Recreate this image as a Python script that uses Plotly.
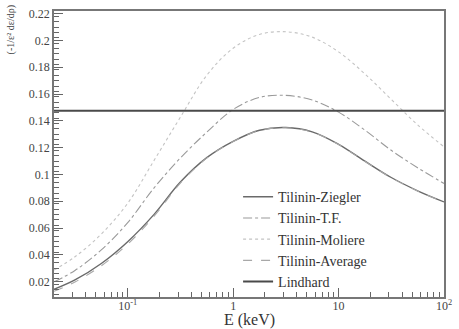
import plotly.graph_objects as go

energy_kev = [0.02, 0.0316, 0.0562, 0.1, 0.178, 0.316, 0.562, 1.0, 1.78, 3.16, 5.62, 10.0, 17.8, 31.6, 56.2, 100.0]

ziegler = [0.0142, 0.0212, 0.0335, 0.0498, 0.0702, 0.0943, 0.1125, 0.1247, 0.1330, 0.1350, 0.1318, 0.1225, 0.1099, 0.0977, 0.0878, 0.0795]
thomas_fermi = [0.0198, 0.0283, 0.0437, 0.0640, 0.0900, 0.1123, 0.1315, 0.1485, 0.1575, 0.1590, 0.1555, 0.1465, 0.1330, 0.1180, 0.1050, 0.0933]
moliere = [0.0286, 0.0385, 0.0555, 0.0785, 0.1105, 0.1427, 0.1740, 0.1942, 0.2045, 0.2065, 0.2025, 0.1915, 0.1750, 0.1560, 0.1370, 0.1206]
average = [0.0128, 0.0197, 0.0318, 0.0480, 0.0688, 0.0935, 0.1122, 0.1245, 0.1328, 0.1348, 0.1316, 0.1223, 0.1097, 0.0975, 0.0876, 0.0793]
lindhard_value = 0.1475
lindhard_x = [0.02, 100]

x_tickvals = [0.1, 1, 10, 100]
x_ticktext = ["10<sup>-1</sup>", "1", "10", "10<sup>2</sup>"]
y_tickvals = [0.02, 0.04, 0.06, 0.08, 0.1, 0.12, 0.14, 0.16, 0.18, 0.2, 0.22]
y_ticktext = ["0.02", "0.04", "0.06", "0.08", "0.1", "0.12", "0.14", "0.16", "0.18", "0.2", "0.22"]

x_minor = [m * 10 ** e for e in range(-2, 2) for m in range(2, 10)]
y_minor = [round(0.01 + 0.004 * i, 4) for i in range(0, 54)]

font_family = "Times New Roman, Liberation Serif, Times, serif"

fig = go.Figure()
fig.add_trace(go.Scatter(x=energy_kev, y=ziegler, mode="lines", name="Tilinin-Ziegler",
                         line=dict(color="#6a6a6a", width=1.4, shape="spline")))
fig.add_trace(go.Scatter(x=energy_kev, y=thomas_fermi, mode="lines", name="Tilinin-T.F.",
                         line=dict(color="#9a9a9a", width=1.1, dash="dashdot", shape="spline")))
fig.add_trace(go.Scatter(x=energy_kev, y=moliere, mode="lines", name="Tilinin-Moliere",
                         line=dict(color="#c4c4c4", width=1.1, dash="dot", shape="spline")))
fig.add_trace(go.Scatter(x=energy_kev, y=average, mode="lines", name="Tilinin-Average",
                         line=dict(color="#a8a8a8", width=1.1, dash="dash", shape="spline")))
fig.add_trace(go.Scatter(x=lindhard_x, y=[lindhard_value, lindhard_value], mode="lines", name="Lindhard",
                         line=dict(color="#4a4a4a", width=2)))

fig.update_layout(
    width=459, height=329,
    margin=dict(l=54, r=7, t=11, b=32),
    paper_bgcolor="white", plot_bgcolor="white",
    font=dict(family=font_family, color="#333333", size=12),
    showlegend=True,
    legend=dict(x=0.472, y=0.405, xanchor="left", yanchor="top",
                bgcolor="rgba(0,0,0,0)", borderwidth=0,
                font=dict(size=14, family=font_family, color="#333333"),
                itemwidth=30, tracegroupgap=0),
    xaxis=dict(type="log", range=[-1.699, 2], tickvals=x_tickvals, ticktext=x_ticktext,
               ticks="inside", ticklen=9, tickcolor="#666666", showgrid=False, zeroline=False,
               showline=True, linecolor="#777777", linewidth=1.5, mirror=True,
               ticklabelstandoff=-3,
               tickfont=dict(size=12, color="#444444", family=font_family),
               minor=dict(tickvals=x_minor, ticks="inside", ticklen=5, tickcolor="#666666", showgrid=False)),
    yaxis=dict(range=[0.0085, 0.222], tickvals=y_tickvals, ticktext=y_ticktext,
               ticks="inside", ticklen=9, tickcolor="#666666", showgrid=False, zeroline=False,
               showline=True, linecolor="#777777", linewidth=1.5, mirror=True,
               tickfont=dict(size=12, color="#444444", family=font_family),
               minor=dict(tickvals=y_minor, ticks="inside", ticklen=5, tickcolor="#666666", showgrid=False)),
)

fig.add_annotation(xref="paper", yref="paper", x=0.5, y=-0.082, xanchor="center", yanchor="middle",
                   text="E (keV)", showarrow=False,
                   font=dict(size=16, family=font_family, color="#333333"))
fig.add_annotation(xref="paper", yref="paper", x=-0.11, y=1.025, xanchor="center", yanchor="top",
                   text="(-1/ε² dε/dρ)", textangle=-90, showarrow=False,
                   font=dict(size=10, family=font_family, color="#444444"))

fig.write_html("out.html", config={"displayModeBar": False},
               post_script="document.body.style.margin='0';document.body.style.padding='0';")
